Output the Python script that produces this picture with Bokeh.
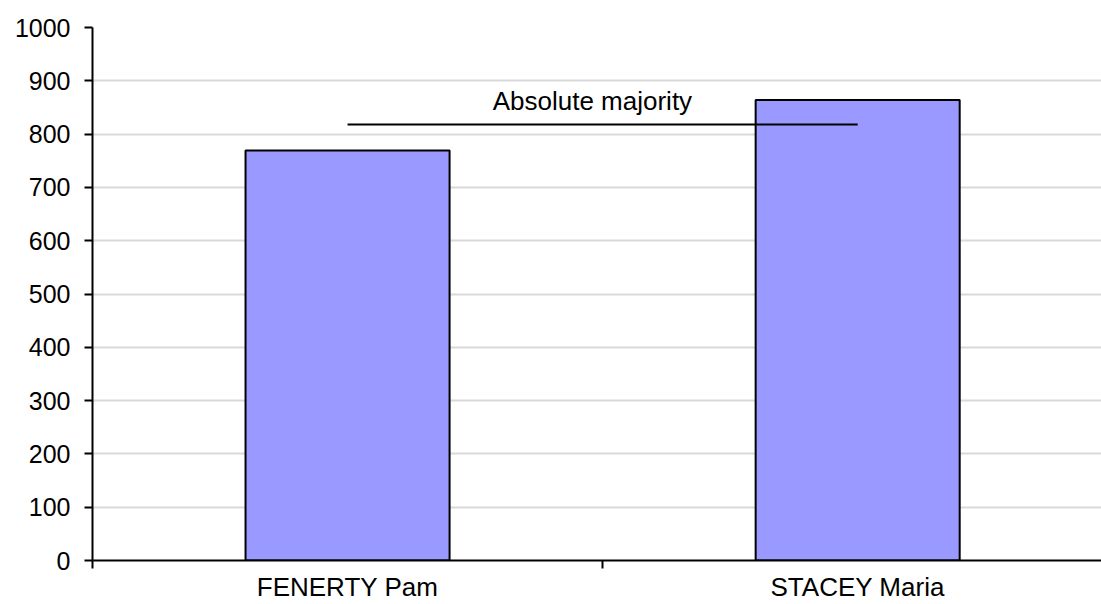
from bokeh.plotting import figure
from bokeh.models import Range1d, FixedTicker, Label
from bokeh.embed import file_html
from bokeh.resources import INLINE

candidates = ["FENERTY Pam", "STACEY Maria"]
votes = [769, 864]
majority = 818
y_ticks = [0, 100, 200, 300, 400, 500, 600, 700, 800, 900, 1000]
majority_label = "Absolute majority"

xs = [i + 0.5 for i in range(len(candidates))]

p = figure(width=1101, height=604, output_backend="svg", toolbar_location=None,
           x_range=Range1d(0, 1.978), y_range=Range1d(0, 1000),
           min_border_left=92, min_border_right=0, min_border_top=27, min_border_bottom=44)
p.outline_line_color = None
p.background_fill_color = "white"

p.vbar(x=xs, top=votes, width=0.4, bottom=0, fill_color="#9999ff",
       line_color="black", line_width=2)

p.line(x=[xs[0], xs[-1]], y=[majority, majority], line_color="black", line_width=2)
p.add_layout(Label(x=0.98, y=863, text=majority_label, text_align="center",
                   text_baseline="alphabetic", text_font="Liberation Sans",
                   text_font_size="26px", text_color="black"))

# x axis
p.xaxis.ticker = FixedTicker(ticks=xs, minor_ticks=[0, 1, 2])
p.xaxis.major_label_overrides = {x: c for x, c in zip(xs, candidates)}
p.xaxis.major_tick_out = 0
p.xaxis.major_tick_in = 0
p.xaxis.minor_tick_out = 8
p.xaxis.minor_tick_in = 0
p.xaxis.minor_tick_line_width = 2
p.xaxis.axis_line_width = 2
p.xaxis.major_label_text_font = "Liberation Sans"
p.xaxis.major_label_text_font_size = "26px"
p.xaxis.major_label_text_color = "black"
p.xaxis.major_label_standoff = 3

# y axis
p.yaxis.ticker = FixedTicker(ticks=y_ticks, minor_ticks=[])
p.yaxis.major_tick_out = 8
p.yaxis.major_tick_in = 0
p.yaxis.major_tick_line_width = 2
p.yaxis.axis_line_width = 2
p.yaxis.major_label_text_font = "Liberation Sans"
p.yaxis.major_label_text_font_size = "25px"
p.yaxis.major_label_text_color = "black"
p.yaxis.major_label_standoff = 14

p.xgrid.grid_line_color = None
p.ygrid.grid_line_color = "#d9d9d9"
p.ygrid.grid_line_width = 2

open("out.html", "w").write(file_html(p, INLINE))
